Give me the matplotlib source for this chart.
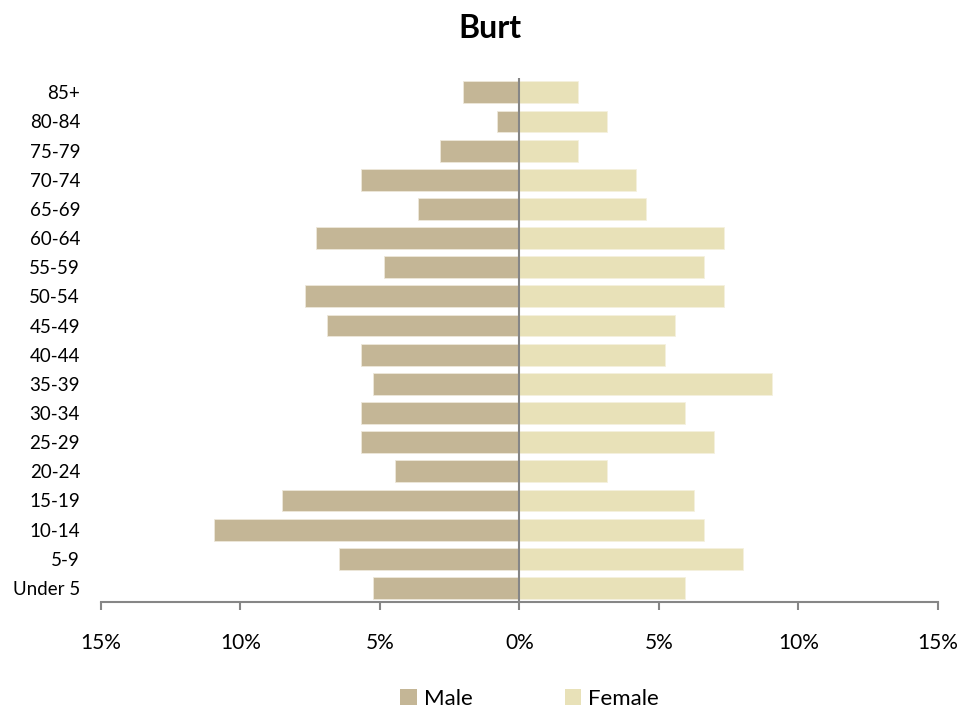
import matplotlib
matplotlib.use("Agg")
import matplotlib.pyplot as plt
from matplotlib.ticker import FuncFormatter, MultipleLocator
from matplotlib.patches import Patch

plt.rcParams['font.family'] = ['Lato', 'DejaVu Sans']

# age groups, bottom to top
ages = ["Under 5", "5-9", "10-14", "15-19", "20-24", "25-29", "30-34", "35-39",
        "40-44", "45-49", "50-54", "55-59", "60-64", "65-69", "70-74", "75-79",
        "80-84", "85+"]

# share of population, percent
male = [5.26, 6.48, 10.93, 8.50, 4.45, 5.67, 5.67, 5.26, 5.67, 6.88,
        7.69, 4.86, 7.29, 3.64, 5.67, 2.83, 0.81, 2.02]
female = [5.92, 8.01, 6.62, 6.27, 3.14, 6.97, 5.92, 9.06, 5.23, 5.57,
          7.32, 6.62, 7.32, 4.53, 4.18, 2.09, 3.14, 2.09]

male_col = "#C4B696"
female_col = "#E8E1B8"

fig = plt.figure(figsize=(9.79, 7.13), dpi=100)
ax = fig.add_axes([0.103, 0.155, 0.855, 0.736])

y = range(len(ages))
ax.barh(y, [-m for m in male], height=0.75, color=male_col, edgecolor="#EDE8DA", linewidth=0.6)
ax.barh(y, female, height=0.75, color=female_col, edgecolor="#F5F1DE", linewidth=0.6)

ax.axvline(0, color="#868686", linewidth=1.5, zorder=3)

ax.set_xlim(-15, 15)
ax.set_ylim(-0.5, len(ages) - 0.5)
ax.xaxis.set_major_locator(MultipleLocator(5))
ax.xaxis.set_major_formatter(FuncFormatter(lambda v, p: "%d%%" % abs(round(v))))

ax.set_yticks(list(y))
ax.set_yticklabels(ages)

for s in ["top", "right", "left"]:
    ax.spines[s].set_visible(False)
ax.spines["bottom"].set_color("#868686")
ax.spines["bottom"].set_linewidth(1.5)

ax.tick_params(axis="x", direction="out", length=6, width=1.5, color="#868686",
               labelsize=15, pad=16)
ax.tick_params(axis="y", length=0, labelsize=13.5, pad=15)

fig.suptitle("Burt", y=0.98, fontsize=23, fontweight="bold")

handles = [Patch(facecolor=male_col, label="Male"),
           Patch(facecolor=female_col, label="Female")]
fig.legend(handles=handles, loc="lower center", ncol=2, frameon=False,
           fontsize=16, handlelength=0.75, handleheight=0.75, handletextpad=0.3,
           columnspacing=4.15, bbox_to_anchor=(0.541, -0.022))

fig.savefig("out.png", dpi=100)
